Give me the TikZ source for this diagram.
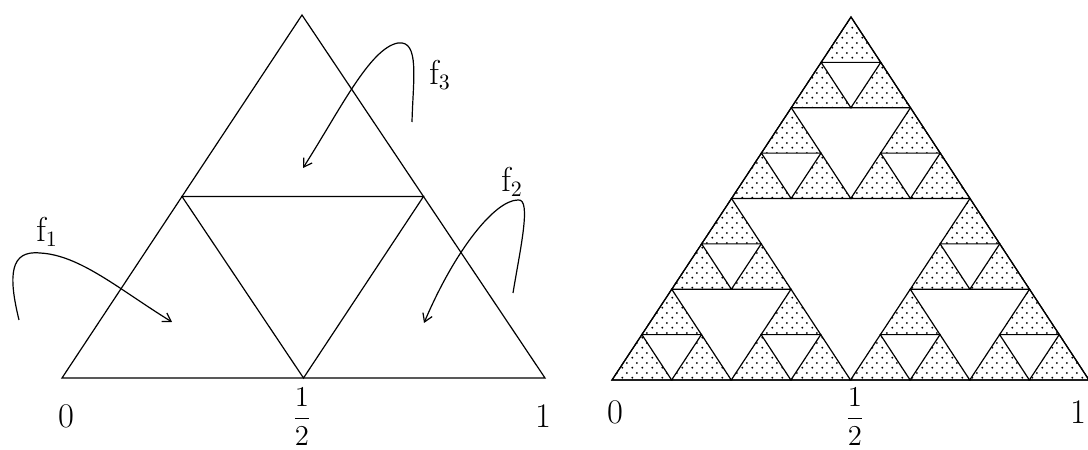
\documentclass[tikz,border=0pt]{standalone}
\usepackage{amsmath}
\usepackage{tikz}
\usetikzlibrary{arrows.meta, patterns.meta, calc}

\tikzdeclarepattern{
  name=sdots,
  type=colored,
  bottom left={(0pt,0pt)}, top right={(5pt,5pt)},
  tile size={(5pt,5pt)},
  code={
    \fill (1.25pt,1.25pt) circle (0.55pt);
    \fill (3.75pt,3.75pt) circle (0.55pt);
  }
}

\begin{document}
\begin{tikzpicture}[x=0.5pt, y=0.5pt, line width=0.6pt,
  >={Straight Barb[length=4pt, width=5pt]},
  lbl/.style={font=\fontsize{16}{18}\selectfont},
  frac/.style={font=\fontsize{14}{16}\selectfont, anchor=south, inner sep=1pt},
  shaded/.style={pattern=sdots, draw=black, line width=0.6pt}]
  \useasboundingbox (0,0) rectangle (1088,450);

  % Triangle de gauche
  \coordinate (A) at (62,72);
  \coordinate (B) at (545,72);
  \coordinate (C) at (302,435);
  \draw (A) -- (B) -- (C) -- cycle;
  \draw ($(A)!0.5!(C)$) -- ($(B)!0.5!(C)$) -- ($(A)!0.5!(B)$) -- cycle;

  % Etiquettes de l'axe
  \node[lbl] (zeroL) at (66,34) {$0$};
  \node[frac] (halfL) at (302,2) {$\dfrac{1}{2}$};
  \node[lbl] (oneL) at (543,34) {$1$};

  % Fleches f1, f2, f3
  \node[lbl] (f1) at (47,218) {$\mathrm{f}_1$};
  \node[lbl] (f3) at (440,375) {$\mathrm{f}_3$};
  \node[lbl] (f2) at (512,268) {$\mathrm{f}_2$};
  \coordinate (s1) at (19,130);  \coordinate (e1) at (172,128);
  \coordinate (s3) at (412,328); \coordinate (e3) at (303,282);
  \coordinate (s2) at (513,157); \coordinate (e2) at (424,127);
  \draw[->] (s1) .. controls (8,175) and (10,200) .. (40,197)
                 .. controls (80,195) and (120,160) .. (e1);
  \draw[->] (s3) .. controls (413,370) and (420,410) .. (398,407)
                 .. controls (370,402) and (340,340) .. (e3);
  \draw[->] (s2) .. controls (520,200) and (532,252) .. (518,250)
                 .. controls (495,250) and (455,200) .. (e2);

  % Triangle de Sierpinski (3 niveaux)
  \begin{scope}[shift={(612,70)}, x={(238.5pt,0pt)}, y={(119.5pt,181.5pt)}]
    \foreach \ax/\ay in {0/0, 0.5/0, 0/0.5}
      \foreach \bx/\by in {0/0, 0.25/0, 0/0.25}
        \foreach \cx/\cy in {0/0, 0.125/0, 0/0.125}
          \filldraw[shaded] (\ax+\bx+\cx, \ay+\by+\cy) -- ++(0.125,0)
                            -- ++(-0.125,0.125) -- cycle;
    \draw (0,0) -- (1,0) -- (0,1) -- cycle;
  \end{scope}

  % Etiquettes de l'axe
  \node[lbl] (zeroR) at (615,38) {$0$};
  \node[frac] (halfR) at (855,2) {$\dfrac{1}{2}$};
  \node[lbl] (oneR) at (1078,38) {$1$};
\end{tikzpicture}
\end{document}
